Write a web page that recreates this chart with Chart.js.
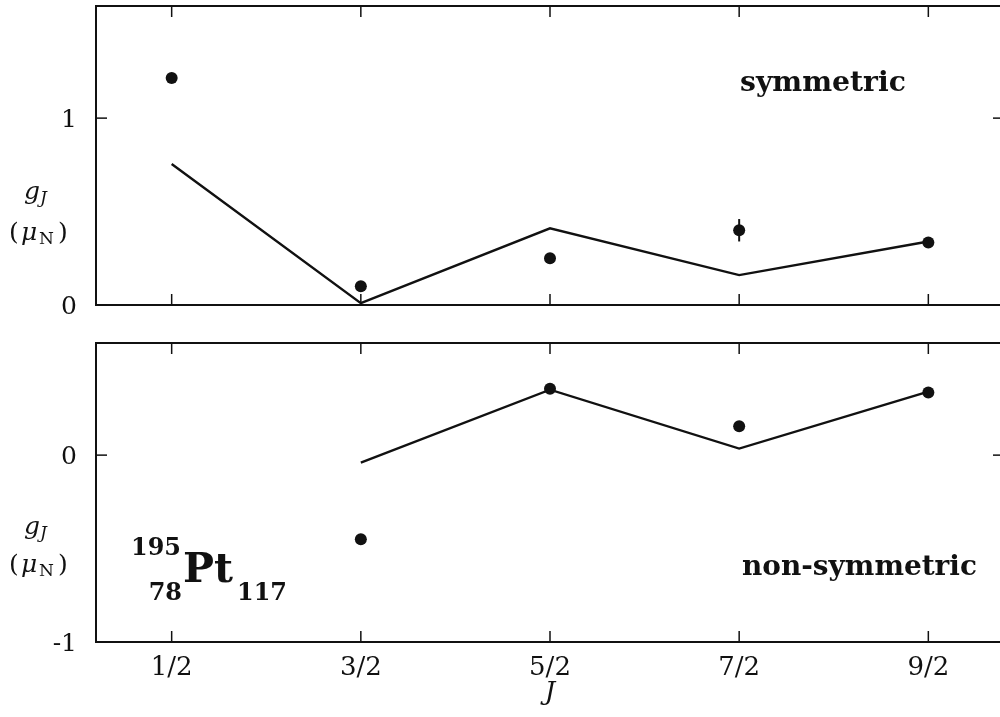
<!DOCTYPE html>
<html><head><meta charset="utf-8">
<script src="https://cdn.jsdelivr.net/npm/chart.js@4/dist/chart.umd.min.js"></script>
<style>
html,body{margin:0;padding:0;background:#fff;overflow:hidden}
#wrap{position:relative;width:1000px;height:717px;overflow:hidden;background:#fff}
</style></head><body>
<div id="wrap">
<canvas id="c1" width="1010" height="320" style="position:absolute;left:0;top:0"></canvas>
<canvas id="c2" width="1010" height="387" style="position:absolute;left:0;top:330px"></canvas>
</div>
<script>
// ---- data ----
const jLabels = ['1/2', '3/2', '5/2', '7/2', '9/2'];
const jIndex = [0, 1, 2, 3, 4];
const symExp = [1.215, 0.10, 0.25, 0.40, 0.335];
const symExpErr = [0, 0, 0, 0.06, 0];
const symCalc = [0.755, 0.01, 0.41, 0.16, 0.34];
const nonsymExp = [null, -0.45, 0.355, 0.155, 0.335];
const nonsymExpErr = [0, 0, 0, 0, 0];
const nonsymCalc = [null, -0.04, 0.35, 0.035, 0.34];
const topYTicks = [0, 1];
const botYTicks = [-1, 0];

const SERIF = '"DejaVu Serif", "Liberation Serif", serif';
const INK = '#111';

function pts(vals) {
  return jIndex.map((x, i) => ({x, y: vals[i]})).filter(p => p.y !== null);
}

function line(ctx, x1, y1, x2, y2) {
  ctx.beginPath(); ctx.moveTo(x1, y1); ctx.lineTo(x2, y2); ctx.stroke();
}

function fitSize(ctx, text, font, target) {
  ctx.font = font.replace('SZ', '40px');
  const w = ctx.measureText(text).width;
  return 40 * target / w;
}

const framePlugin = {
  id: 'frame',
  beforeDatasetsDraw(chart, args, opts) {
    const {ctx, chartArea: a, scales: {x, y}} = chart;
    ctx.save();
    ctx.strokeStyle = INK;
    ctx.lineWidth = 2;
    ctx.strokeRect(a.left, a.top, a.right - a.left, a.bottom - a.top);
    ctx.lineWidth = 1.5;
    const tl = 11;
    jIndex.forEach(v => {
      const px = x.getPixelForValue(v);
      line(ctx, px, a.top, px, a.top + tl);
      line(ctx, px, a.bottom, px, a.bottom - tl);
    });
    ctx.fillStyle = INK;
    ctx.font = '25px ' + SERIF;
    ctx.textAlign = 'right';
    ctx.textBaseline = 'middle';
    opts.yTicks.forEach(v => {
      const py = y.getPixelForValue(v);
      line(ctx, a.left, py, a.left + tl, py);
      line(ctx, a.right, py, a.right - tl, py);
      ctx.fillText(String(v), a.left - 19, py + 2);
    });
    ctx.restore();
  },
  afterDatasetsDraw(chart, args, opts) {
    const {ctx, scales: {x, y}} = chart;
    ctx.save();
    ctx.strokeStyle = INK; ctx.lineWidth = 2;
    opts.vals.forEach((v, i) => {
      const e = opts.errs[i];
      if (v === null || !e) return;
      const px = x.getPixelForValue(jIndex[i]);
      line(ctx, px, y.getPixelForValue(v - e), px, y.getPixelForValue(v + e));
    });
    ctx.restore();
  }
};

function drawGJ(ctx, baseG, baseMu) {
  ctx.save();
  ctx.fillStyle = INK;
  ctx.textAlign = 'left';
  ctx.textBaseline = 'alphabetic';
  ctx.font = 'italic 25px ' + SERIF;
  ctx.fillText('g', 24, baseG);
  ctx.font = 'italic 17px ' + SERIF;
  ctx.fillText('J', 40, baseG + 4);
  ctx.font = '25px ' + SERIF;
  ctx.fillText('(', 9, baseMu);
  ctx.font = 'italic 25px ' + SERIF;
  ctx.fillText('μ', 21, baseMu);
  ctx.font = '17px ' + SERIF;
  ctx.fillText('N', 39, baseMu + 4);
  ctx.font = '25px ' + SERIF;
  ctx.fillText(')', 58, baseMu);
  ctx.restore();
}

const textPlugin = {
  id: 'texts',
  afterDraw(chart, args, opts) {
    const ctx = chart.ctx;
    ctx.save();
    ctx.fillStyle = INK;
    ctx.textBaseline = 'alphabetic';
    ctx.textAlign = 'left';
    if (opts.which === 'top') {
      const f = 'bold SZ ' + SERIF;
      const s = fitSize(ctx, 'symmetric', f, 166);
      ctx.font = 'bold ' + s + 'px ' + SERIF;
      ctx.fillText('symmetric', 740, 91);
      drawGJ(ctx, 199, 240);
    } else {
      const off = 330;
      const f = 'bold SZ ' + SERIF;
      const s = fitSize(ctx, 'non-symmetric', f, 235);
      ctx.font = 'bold ' + s + 'px ' + SERIF;
      ctx.fillText('non-symmetric', 742, 575 - off);
      drawGJ(ctx, 534 - off, 572 - off);
      // nuclide label
      let sz = fitSize(ctx, '195', 'bold SZ ' + SERIF, 50);
      ctx.font = 'bold ' + sz + 'px ' + SERIF;
      ctx.fillText('195', 131, 555 - off);
      ctx.textAlign = 'right';
      ctx.fillText('78', 182, 600 - off);
      ctx.textAlign = 'left';
      ctx.fillText('117', 237, 600 - off);
      const psz = fitSize(ctx, 'Pt', 'bold SZ ' + SERIF, 50);
      ctx.font = 'bold ' + psz + 'px ' + SERIF;
      ctx.fillText('Pt', 183, 582 - off);
    }
    ctx.restore();
  }
};

function makeChart(id, calc, exp, errs, yMin, yMax, yTicks, which) {
  const isBottom = which === 'bottom';
  return new Chart(document.getElementById(id), {
    type: 'scatter',
    data: {
      datasets: [
        {label: 'calc', data: pts(calc), showLine: true, pointRadius: 0,
         borderColor: INK, borderWidth: 2.4, tension: 0},
        {label: 'exp', data: pts(exp), showLine: false, pointRadius: 6,
         pointBackgroundColor: INK, pointBorderColor: INK, pointBorderWidth: 0}
      ]
    },
    options: {
      responsive: false,
      animation: false,
      events: [],
      layout: {padding: isBottom ? {top: 13, right: 5, bottom: 0, left: 0} : {top: 5, right: 5, bottom: 15, left: 0}},
      plugins: {
        legend: {display: false},
        tooltip: {enabled: false},
        frame: {yTicks: yTicks, vals: exp, errs: errs},
        texts: {which: which}
      },
      scales: {
        x: {
          type: 'linear', min: -0.4, max: 4.4,
          display: isBottom,
          afterBuildTicks: s => { s.ticks = jIndex.map(v => ({value: v})); },
          afterFit: s => { if (isBottom) s.height = 75; },
          grid: {display: false, drawTicks: false},
          border: {display: false},
          ticks: {
            padding: 11, color: INK, maxRotation: 0, autoSkip: false,
            font: {family: SERIF, size: 26},
            callback: v => jLabels[v] !== undefined ? jLabels[v] : ''
          },
          title: {display: true, text: 'J', color: INK,
                  font: {family: SERIF, size: 26, style: 'italic'},
                  padding: {top: 0, bottom: 8}}
        },
        y: {
          type: 'linear', min: yMin, max: yMax,
          afterBuildTicks: s => { s.ticks = yTicks.map(v => ({value: v})); },
          afterFit: s => { s.width = 96; },
          grid: {display: false, drawTicks: false},
          border: {display: false},
          ticks: {display: false}
        }
      }
    },
    plugins: [framePlugin, textPlugin]
  });
}

makeChart('c1', symCalc, symExp, symExpErr, 0, 1.6, topYTicks, 'top');
makeChart('c2', nonsymCalc, nonsymExp, nonsymExpErr, -1, 0.6, botYTicks, 'bottom');
</script>
</body></html>
